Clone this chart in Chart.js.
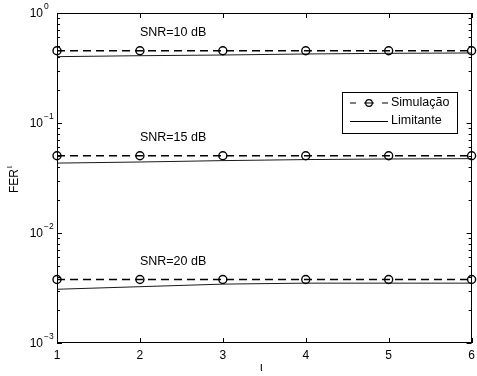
<!DOCTYPE html>
<html>
<head>
<meta charset="utf-8">
<script src="https://cdn.jsdelivr.net/npm/chart.js@4/dist/chart.umd.min.js"></script>
<style>
  html, body { margin: 0; padding: 0; background: #fff; }
  #wrap { width: 477px; height: 376px; }
</style>
</head>
<body>
<div id="wrap"><canvas id="c" width="477" height="376"></canvas></div>
<script>
// Frame index ι
const iotaValues = [1, 2, 3, 4, 5, 6];

// Simulated FER per SNR
const simSnr10 = [0.454, 0.454, 0.454, 0.454, 0.454, 0.454];
const simSnr15 = [0.0504, 0.0504, 0.0504, 0.0504, 0.0504, 0.0504];
const simSnr20 = [0.00378, 0.00378, 0.00378, 0.00378, 0.00378, 0.00378];

// Bound (Limitante) per SNR
const boundSnr10 = [0.401, 0.409, 0.415, 0.424, 0.430, 0.433];
const boundSnr15 = [0.0432, 0.0442, 0.0455, 0.0465, 0.0471, 0.0474];
const boundSnr20 = [0.00308, 0.00325, 0.00343, 0.00350, 0.00350, 0.00350];

// Curve group labels
const snrLabels = ['SNR=10 dB', 'SNR=15 dB', 'SNR=20 dB'];

// Axis ticks
const xTicks = [1, 2, 3, 4, 5, 6];
const yTickExponents = [0, -1, -2, -3];

const legendLabels = ['Simulação', 'Limitante'];

const FONT = '"Liberation Sans", Arial, Helvetica, sans-serif';
const DASH = [8, 5];

function pts(ys) { return iotaValues.map((x, i) => ({ x: x, y: ys[i] })); }

function simSet(ys, show) {
  return {
    label: show ? legendLabels[0] : '',
    data: pts(ys),
    borderColor: '#000',
    borderWidth: 1.5,
    borderDash: DASH,
    pointRadius: 4,
    pointBorderWidth: 1.4,
    pointBorderColor: '#000',
    pointBackgroundColor: 'rgba(0,0,0,0)',
    pointStyle: 'circle',
    tension: 0,
    clip: false
  };
}
function boundSet(ys, show) {
  return {
    label: show ? legendLabels[1] : '',
    data: pts(ys),
    borderColor: '#1a1a1a',
    borderWidth: 1,
    pointRadius: 0,
    tension: 0,
    clip: false
  };
}

const decorations = {
  id: 'decorations',
  afterDraw(chart) {
    const ctx = chart.ctx;
    const a = chart.chartArea;
    const xs = chart.scales.x, ys = chart.scales.y;
    ctx.save();

    // frame
    ctx.strokeStyle = '#000';
    ctx.lineWidth = 1;
    ctx.setLineDash([]);
    ctx.strokeRect(Math.round(a.left) + 0.5, Math.round(a.top) + 0.5,
                   Math.round(a.right - a.left) - 1, Math.round(a.bottom - a.top) - 1);

    // x ticks (inward, top and bottom) and labels
    ctx.fillStyle = '#000';
    ctx.font = '12px ' + FONT;
    ctx.textAlign = 'center';
    ctx.textBaseline = 'middle';
    xTicks.forEach(v => {
      const px = Math.round(xs.getPixelForValue(v)) + 0.5;
      ctx.beginPath();
      ctx.moveTo(px, a.bottom); ctx.lineTo(px, a.bottom - 5);
      ctx.moveTo(px, a.top); ctx.lineTo(px, a.top + 5);
      ctx.stroke();
      ctx.fillText(String(v), xs.getPixelForValue(v), a.bottom + 13);
    });

    // y ticks: majors and log minors, left and right
    yTickExponents.forEach(e => {
      const base = Math.pow(10, e);
      const py = Math.round(ys.getPixelForValue(base)) + 0.5;
      ctx.beginPath();
      ctx.moveTo(a.left, py); ctx.lineTo(a.left + 5, py);
      ctx.moveTo(a.right, py); ctx.lineTo(a.right - 5, py);
      ctx.stroke();
      if (e > -3) {
        for (let m = 2; m <= 9; m++) {
          const my = Math.round(ys.getPixelForValue(base / 10 * m)) + 0.5;
          ctx.beginPath();
          ctx.moveTo(a.left, my); ctx.lineTo(a.left + 3, my);
          ctx.moveTo(a.right, my); ctx.lineTo(a.right - 3, my);
          ctx.stroke();
        }
      }
      // label 10^e
      const cy = ys.getPixelForValue(base);
      ctx.font = '12px ' + FONT;
      ctx.textAlign = 'right';
      ctx.textBaseline = 'middle';
      ctx.fillText('10', a.left - 14, cy + 1);
      ctx.font = '8.5px ' + FONT;
      ctx.textAlign = 'left';
      ctx.fillText(e === 0 ? '0' : '\u2212' + Math.abs(e), a.left - 13, cy - 6);
    });

    // axis titles
    ctx.font = '12px ' + FONT;
    ctx.textAlign = 'center';
    ctx.textBaseline = 'middle';
    ctx.fillText('\u03B9', (a.left + a.right) / 2 - 3, a.bottom + 25);
    ctx.save();
    ctx.translate(15, 181);
    ctx.rotate(-Math.PI / 2);
    ctx.textAlign = 'center';
    ctx.fillText('FER', 0, 0);
    const w = ctx.measureText('FER').width;
    ctx.font = '8.5px ' + FONT;
    ctx.textAlign = 'left';
    ctx.fillText('\u03B9', w / 2 + 1, -5);
    ctx.restore();

    // SNR annotations above each simulated curve
    const sims = [simSnr10, simSnr15, simSnr20];
    ctx.font = '12.5px ' + FONT;
    ctx.textAlign = 'left';
    ctx.textBaseline = 'middle';
    sims.forEach((s, i) => {
      const py = ys.getPixelForValue(s[1]);
      ctx.fillText(snrLabels[i], xs.getPixelForValue(2), py - 18);
    });

    // legend box
    const lx = 342, ly = 92, lw = 115, lh = 41;
    ctx.fillStyle = '#fff';
    ctx.fillRect(lx, ly, lw, lh);
    ctx.strokeStyle = '#000';
    ctx.strokeRect(lx + 0.5, ly + 0.5, lw, lh);
    const s0 = chart.data.datasets[0], s1 = chart.data.datasets[1];
    // row 1: dashed with circle
    let ry = ly + 11;
    ctx.lineWidth = 1.2;
    ctx.beginPath();
    ctx.moveTo(350, ry); ctx.lineTo(356, ry);
    ctx.moveTo(382, ry); ctx.lineTo(388, ry);
    ctx.moveTo(364, ry); ctx.lineTo(374, ry);
    ctx.stroke();
    ctx.beginPath();
    ctx.arc(369, ry, 3.3, 0, Math.PI * 2);
    ctx.stroke();
    ctx.fillStyle = '#000';
    ctx.font = '12.5px ' + FONT;
    ctx.textAlign = 'left';
    ctx.textBaseline = 'middle';
    ctx.fillText(s0.label, 391, ry);
    // row 2: solid
    ry = ly + 29;
    ctx.lineWidth = 1;
    ctx.beginPath();
    ctx.moveTo(350, ry + 0.5); ctx.lineTo(388, ry + 0.5);
    ctx.stroke();
    ctx.fillText(s1.label, 391, ry);

    ctx.restore();
  }
};

new Chart(document.getElementById('c'), {
  type: 'line',
  data: {
    datasets: [
      simSet(simSnr10, true), boundSet(boundSnr10, true),
      simSet(simSnr15, false), boundSet(boundSnr15, false),
      simSet(simSnr20, false), boundSet(boundSnr20, false)
    ]
  },
  options: {
    responsive: false,
    animation: false,
    devicePixelRatio: 1,
    layout: { padding: { left: 57, top: 13, right: 2, bottom: 33 } },
    plugins: { legend: { display: false }, tooltip: { enabled: false } },
    scales: {
      x: { type: 'linear', min: 1, max: 6, display: false },
      y: { type: 'logarithmic', min: 0.001, max: 1, display: false }
    }
  },
  plugins: [decorations]
});
</script>
</body>
</html>
